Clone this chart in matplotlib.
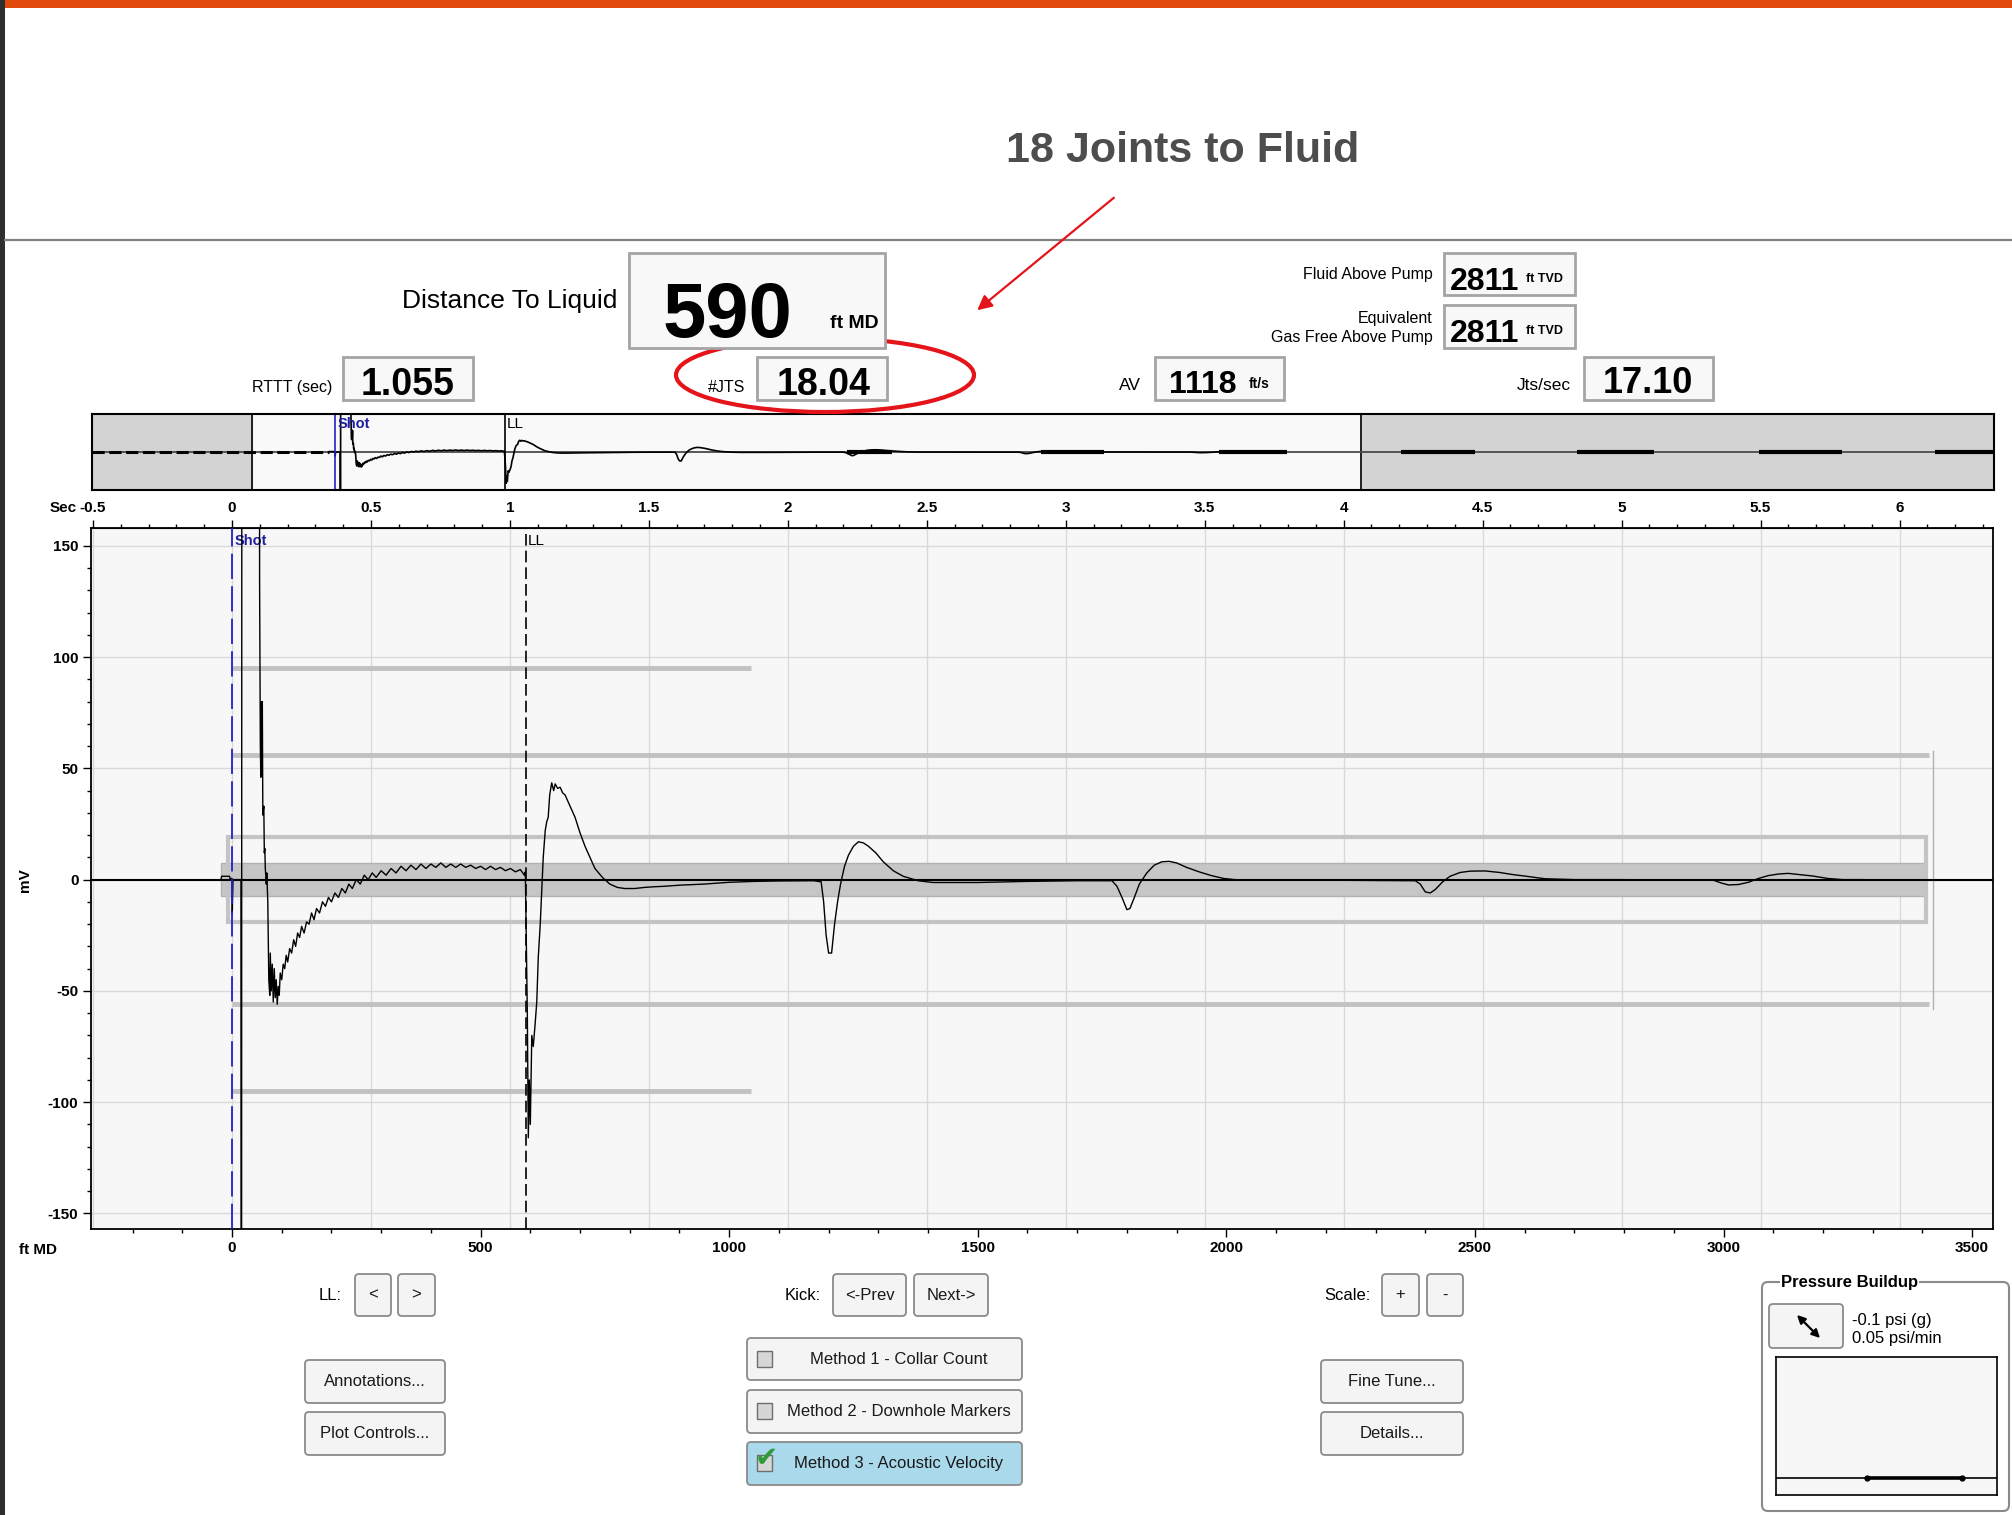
import numpy as np
import matplotlib
matplotlib.use("Agg")
import matplotlib.pyplot as plt
from matplotlib.patches import Rectangle, FancyBboxPatch, Ellipse
from matplotlib.ticker import MultipleLocator, FuncFormatter

W, H = 2012, 1515
FONT = ["Liberation Sans", "DejaVu Sans"]
plt.rcParams["font.family"] = FONT
plt.rcParams["axes.unicode_minus"] = False

# readings shown in the header
dist_to_liquid = 590
rttt_sec = 1.055
joints = 18.04
acoustic_vel = 1118
jts_per_sec = 17.10
fluid_above_pump = 2811
gas_free_above_pump = 2811
pressure_psi = -0.1
pressure_rate = 0.05

ft_per_sec = acoustic_vel / 2   # round trip time -> depth

shot_ft = 0
ll_ft = 592

# acoustic trace (ft MD, mV)
sig_ft = [-22, -21, -5, -4, 0, 0.5, 2, 18, 19, 20, 55, 55.5, 57, 58, 59, 60, 61, 62, 64, 65, 66, 67, 69, 70, 72,
          74, 76, 77, 79, 81, 83, 85, 87, 89, 91, 93, 95, 97, 100, 103, 106, 109, 112, 116, 120, 124, 128, 132,
          136, 140, 145, 150, 155, 160, 165, 170, 176, 182, 188, 194, 200, 207, 214, 221, 228, 235, 242, 250,
          258, 266, 274, 282, 290, 300, 310, 320, 330, 340, 350, 360, 370, 380, 390, 400, 410, 420, 430, 440,
          450, 460, 470, 480, 490, 500, 510, 520, 530, 540, 550, 560, 570, 580, 588, 590, 592, 594, 596, 598,
          600, 603, 606, 610, 613, 616, 620, 623, 626, 630, 633, 636, 639, 643, 647, 650, 655, 660, 665, 670,
          680, 690, 700, 710, 720, 730, 745, 760, 775, 790, 810, 830, 850, 870, 900, 950, 1000, 1050, 1100,
          1170, 1185, 1190, 1195, 1200, 1206, 1212, 1218, 1224, 1232, 1240, 1250, 1260, 1270, 1280, 1295, 1310,
          1330, 1350, 1380, 1410, 1500, 1600, 1700, 1770, 1780, 1790, 1800, 1806, 1815, 1825, 1840, 1855, 1870,
          1885, 1900, 1920, 1945, 1970, 1995, 2030, 2150, 2230, 2380, 2390, 2400, 2410, 2420, 2435, 2450, 2470,
          2490, 2520, 2550, 2575, 2600, 2640, 2700, 2790, 2980, 2995, 3010, 3030, 3050, 3070, 3090, 3110, 3130,
          3150, 3180, 3210, 3240, 3280]
sig_mv = [0, 1.5, 1.5, 0.5, 0.5, -15, 0, 0, -400, 400, 400, 134, 60, 46, 80, 55, 80, 29, 33, 12, 14, 5, -2, 3, -10,
          -45, -52, -33, -50, -38, -55, -40, -53, -45, -56, -48, -52, -42, -45, -38, -40, -34, -37, -31, -33, -27,
          -30, -24, -26, -21, -24, -19, -20, -15, -18, -13, -15, -10, -12, -8, -10, -6, -8, -4, -6, -2, -4, 0,
          -2, 2, 0, 3, 1, 4, 2, 5, 3, 6, 4, 6.5, 4.5, 7, 5, 7, 5.5, 7.5, 5.5, 7, 5.5, 7, 5.5, 6.5, 5, 6, 4.5, 6,
          4.5, 5.5, 4, 5, 3.5, 4.5, 2, 3.5, -30, -60, -116, -90, -110, -70, -75, -64, -55, -35, -20, -5, 10, 22,
          26, 28, 38, 43.5, 40, 43, 41, 41.5, 39, 38, 33, 28, 21, 15, 10, 5, 1, -2, -3.5, -4, -4, -3.5, -3.2, -3,
          -2.5, -2, -1.2, -0.8, -0.6, -0.5, -1, -10, -25, -33, -33, -20, -10, -2, 6, 11, 15, 17, 16.5, 15, 12, 8,
          4, 1.5, -0.5, -1.3, -1.3, -0.8, -0.5, -0.5, -3, -8, -13.5, -13, -8, -2, 3, 6.5, 8, 8.2, 7.5, 5.5, 3.5,
          1.8, 0.5, -0.3, -0.3, -0.3, -0.5, -2, -5.5, -6, -4.5, -1, 1.5, 3.2, 3.8, 3.9, 3.2, 2.3, 1.6, 0.4, 0, 0,
          -0.3, -1.5, -2.4, -2.2, -1.2, 0.5, 1.8, 2.5, 2.8, 2.3, 1.6, 0.5, 0, 0]

# gray gating bands on the trace
noise_band_mv = 7.3
noise_band_ft = [-22, 3405]
box_mv = 19
box_ft = [-8, 3408]
gate_mid_mv = 56
gate_mid_ft = [0, 3413]
gate_hi_mv = 95
gate_hi_ft = [0, 1044]

# overview strip (seconds)
strip_range = [-1.514, 10.336]
strip_window = [-0.517, 6.393]
strip_bursts = [(3.19, 3.47), (4.40, 4.79), (5.51, 5.93), (6.64, 7.10), (7.74, 8.22), (8.87, 9.39), (9.97, 10.34)]

sec_ticks = np.arange(-0.5, 6.01, 0.5)
ft_ticks = np.arange(0, 3501, 500)
mv_ticks = np.arange(-150, 151, 50)

pb_marks = [0.41, 0.84]

BLUE = "#2323C2"
RED = "#E5141B"


def px(x0, y0, x1, y1):
    return [x0 / W, 1 - y1 / H, (x1 - x0) / W, (y1 - y0) / H]


fig = plt.figure(figsize=(W / 100, H / 100), dpi=100)
fig.patch.set_facecolor("white")

# ---------------- main trace
ax = fig.add_axes(px(91, 528, 1993, 1229))
ax.set_facecolor("#F7F7F7")
ax.set_xlim(-283.6, 3542)
ax.set_ylim(-157, 158)
for s in sec_ticks:
    ax.axvline(s * ft_per_sec, color="#D9D9D9", lw=1, zorder=0.5)
for m in mv_ticks:
    ax.axhline(m, color="#D9D9D9", lw=1, zorder=0.5)

ax.add_patch(Rectangle((noise_band_ft[0], -noise_band_mv), noise_band_ft[1] - noise_band_ft[0], 2 * noise_band_mv,
                       fc="#C6C6C6", ec="#B2B2B2", lw=1, zorder=1))
ax.add_patch(Rectangle((box_ft[0], -box_mv), box_ft[1] - box_ft[0], 2 * box_mv,
                       fill=False, ec="#C4C4C4", lw=3, zorder=1))
for lvl in (gate_mid_mv, -gate_mid_mv):
    ax.plot(gate_mid_ft, [lvl, lvl], color="#C2C2C2", lw=3.5, solid_capstyle="butt", zorder=1)
ax.plot([gate_mid_ft[1] + 8] * 2, [-gate_mid_mv - 2, gate_mid_mv + 2], color="#B0B0B0", lw=1, zorder=1)
for lvl in (gate_hi_mv, -gate_hi_mv):
    ax.plot(gate_hi_ft, [lvl, lvl], color="#C2C2C2", lw=3.5, solid_capstyle="butt", zorder=1)

ax.axhline(0, color="black", lw=1.5, zorder=3)
ax.plot(sig_ft, sig_mv, color="black", lw=1.0, zorder=4)
ax.axvline(shot_ft, color=BLUE, lw=1.3, ls=(0, (14, 4)), zorder=5)
ax.axvline(ll_ft, color="black", lw=1.2, ls=(0, (7, 3)), zorder=5)
ax.annotate("Shot", xy=(shot_ft, 1), xycoords=ax.get_xaxis_transform(), xytext=(2, -4),
            textcoords="offset points", va="top", ha="left", color="#1E1E9E", fontsize=10.5, weight="bold")
ax.annotate("LL", xy=(ll_ft, 1), xycoords=ax.get_xaxis_transform(), xytext=(1, -4),
            textcoords="offset points", va="top", ha="left", color="black", fontsize=11)

ax.set_xticks(ft_ticks)
ax.xaxis.set_minor_locator(MultipleLocator(100))
ax.set_yticks(mv_ticks)
ax.yaxis.set_minor_locator(MultipleLocator(10))
ax.tick_params(which="major", direction="out", length=6, width=1, labelsize=11, pad=3)
ax.tick_params(which="minor", direction="out", length=3, width=1)
for lbl in ax.get_xticklabels() + ax.get_yticklabels():
    lbl.set_fontweight("bold")
for sp in ax.spines.values():
    sp.set_linewidth(1.3)

secax = ax.secondary_xaxis("top", functions=(lambda f: f / ft_per_sec, lambda s: s * ft_per_sec))
secax.set_xticks(sec_ticks)
secax.xaxis.set_minor_locator(MultipleLocator(0.1))
secax.xaxis.set_major_formatter(FuncFormatter(lambda v, p: "%g" % v))
secax.tick_params(which="major", direction="out", length=6, width=1, labelsize=11, pad=3)
secax.tick_params(which="minor", direction="out", length=3, width=1)
for lbl in secax.get_xticklabels():
    lbl.set_fontweight("bold")

# ---------------- overview strip
axs = fig.add_axes(px(92, 414, 1994, 490))
axs.set_facecolor("#F9F9F9")
axs.set_xlim(strip_range)
axs.set_ylim(-141, 141)
axs.axvspan(strip_range[0], strip_window[0], color="#D3D3D3", zorder=0)
axs.axvspan(strip_window[1], strip_range[1], color="#D3D3D3", zorder=0)
for w in strip_window:
    axs.axvline(w, color="black", lw=1.2)
axs.axhline(0, color="#4A4A4A", lw=1.3)
sig_t = np.array(sig_ft) / ft_per_sec
axs.plot([strip_range[0], sig_t[0]], [0, 0], color="black", lw=2.2, ls=(0, (4, 1.5)))
axs.plot(sig_t, sig_mv, color="black", lw=1.2)
for a, b in strip_bursts:
    axs.plot([a, b], [0, 0], color="black", lw=3, solid_capstyle="butt")
axs.axvline(shot_ft / ft_per_sec, color=BLUE, lw=1.2)
axs.axvline(ll_ft / ft_per_sec, color="black", lw=1.2)
axs.annotate("Shot", xy=(shot_ft / ft_per_sec, 1), xycoords=axs.get_xaxis_transform(), xytext=(2, -2),
             textcoords="offset points", va="top", color="#1E1E9E", fontsize=10.5, weight="bold")
axs.annotate("LL", xy=(ll_ft / ft_per_sec, 1), xycoords=axs.get_xaxis_transform(), xytext=(1, -2),
             textcoords="offset points", va="top", color="black", fontsize=11)
axs.set_xticks([])
axs.set_yticks([])
for sp in axs.spines.values():
    sp.set_linewidth(1.5)

# ---------------- pressure buildup mini plot
axp = fig.add_axes(px(1776, 1357, 1997, 1495))
axp.set_facecolor("#F7F7F7")
axp.set_xlim(0, 1)
axp.set_ylim(-0.12, 0.043)
axp.axhline(pressure_psi, color="black", lw=1.2)
axp.plot(pb_marks, [pressure_psi] * len(pb_marks), color="black", lw=2.6, marker="o", ms=3.5)
axp.set_xticks([])
axp.set_yticks([])
for sp in axp.spines.values():
    sp.set_linewidth(1.2)

# ---------------- overlay in pixel units
ov = fig.add_axes([0, 0, 1, 1], zorder=10)
ov.set_xlim(0, W)
ov.set_ylim(H, 0)
ov.axis("off")
ov.patch.set_alpha(0)

ov.add_patch(Rectangle((0, 0), W, 8, fc="#E1480B", ec="none"))
ov.add_patch(Rectangle((0, 0), 5, H, fc="#2E2E2E", ec="none"))
ov.plot([5, W], [240, 240], color="#808080", lw=1.6)

ov.text(1183, 162, "18 Joints to Fluid", ha="center", va="baseline", fontsize=31, weight="bold", color="#4D4D4D")
ov.add_patch(Ellipse((825, 375), 298, 74, fill=False, ec=RED, lw=3))
ov.annotate("", xy=(975, 312), xytext=(1116, 196),
            arrowprops=dict(arrowstyle="-|>", color=RED, lw=1.6, mutation_scale=22))


def valbox(x0, y0, x1, y1):
    ov.add_patch(Rectangle((x0, y0), x1 - x0, y1 - y0, fc="#F8F8F8", ec="#A4A4A4", lw=2))


valbox(629, 253, 885, 348)
valbox(343, 357, 473, 400)
valbox(757, 357, 887, 400)
valbox(1155, 357, 1284, 400)
valbox(1584, 357, 1713, 400)
valbox(1444, 253, 1575, 295)
valbox(1444, 305, 1575, 348)

ov.text(617, 308, "Distance To Liquid", ha="right", va="baseline", fontsize=19)
ov.text(663, 337, "%d" % dist_to_liquid, ha="left", va="baseline", fontsize=56, weight="bold")
ov.text(830, 328, "ft MD", ha="left", va="baseline", fontsize=14, weight="bold")
ov.text(332, 392, "RTTT (sec)", ha="right", va="baseline", fontsize=11.5)
ov.text(408, 395, "%.3f" % rttt_sec, ha="center", va="baseline", fontsize=27, weight="bold")
ov.text(745, 392, "#JTS", ha="right", va="baseline", fontsize=11.5)
ov.text(824, 395, "%.2f" % joints, ha="center", va="baseline", fontsize=27, weight="bold")
ov.text(1141, 390, "AV", ha="right", va="baseline", fontsize=12.5)
ov.text(1169, 393, "%d" % acoustic_vel, ha="left", va="baseline", fontsize=23, weight="bold")
ov.text(1249, 388, "ft/s", ha="left", va="baseline", fontsize=10, weight="bold")
ov.text(1571, 390, "Jts/sec", ha="right", va="baseline", fontsize=12.5)
ov.text(1648, 393, "%.2f" % jts_per_sec, ha="center", va="baseline", fontsize=26, weight="bold")
ov.text(1433, 279, "Fluid Above Pump", ha="right", va="baseline", fontsize=11.5)
ov.text(1450, 290, "%d" % fluid_above_pump, ha="left", va="baseline", fontsize=23, weight="bold")
ov.text(1526, 282, "ft TVD", ha="left", va="baseline", fontsize=9, weight="bold")
ov.text(1433, 323, "Equivalent", ha="right", va="baseline", fontsize=11.5)
ov.text(1433, 342, "Gas Free Above Pump", ha="right", va="baseline", fontsize=11.5)
ov.text(1450, 342, "%d" % gas_free_above_pump, ha="left", va="baseline", fontsize=23, weight="bold")
ov.text(1526, 334, "ft TVD", ha="left", va="baseline", fontsize=9, weight="bold")

# axis captions
ov.text(77, 508, "Sec", ha="right", va="center", fontsize=11, weight="bold")
ov.text(19, 1250, "ft MD", ha="left", va="center", fontsize=11, weight="bold")
ov.text(25, 880, "mV", ha="center", va="center", fontsize=11, weight="bold", rotation=90)


def button(x0, y0, x1, y1, label, fc="#F4F4F4", dx=0, size=12):
    ov.add_patch(FancyBboxPatch((x0, y0), x1 - x0, y1 - y0, boxstyle="round,pad=0,rounding_size=4",
                                fc=fc, ec="#8A8A8A", lw=1.3))
    ov.text((x0 + x1) / 2 + dx, (y0 + y1) / 2, label, ha="center", va="center", fontsize=size, color="#1A1A1A")


ov.text(342, 1295, "LL:", ha="right", va="center", fontsize=12)
button(355, 1274, 391, 1316, "<")
button(398, 1274, 435, 1316, ">")
button(305, 1360, 445, 1403, "Annotations...")
button(305, 1412, 445, 1455, "Plot Controls...")

ov.text(821, 1295, "Kick:", ha="right", va="center", fontsize=12)
button(833, 1274, 906, 1316, "<-Prev")
button(914, 1274, 988, 1316, "Next->")
button(747, 1338, 1022, 1380, "Method 1 - Collar Count", dx=14)
button(747, 1390, 1022, 1433, "Method 2 - Downhole Markers", dx=14)
button(747, 1442, 1022, 1485, "Method 3 - Acoustic Velocity", fc="#A9D9EA", dx=14)
for cy in (1359, 1411, 1463):
    ov.add_patch(Rectangle((757, cy - 8), 15, 16, fc="#D6D6D6", ec="#6E6E6E", lw=1))
ov.text(766, 1458, "\u2714", ha="center", va="center", fontsize=20, color="#2E9B3A", family=["DejaVu Sans"])

ov.text(1371, 1295, "Scale:", ha="right", va="center", fontsize=12)
button(1382, 1274, 1419, 1316, "+")
button(1427, 1274, 1463, 1316, "-")
button(1321, 1360, 1463, 1403, "Fine Tune...")
button(1321, 1412, 1463, 1455, "Details...")

ov.add_patch(FancyBboxPatch((1762, 1282), 247, 229, boxstyle="round,pad=0,rounding_size=6",
                            fill=False, ec="#8A8A8A", lw=1.5))
ov.text(1781, 1283, "Pressure Buildup", ha="left", va="center", fontsize=12, weight="bold",
        bbox=dict(fc="white", ec="none", pad=1))
button(1769, 1304, 1843, 1348, "")
ov.annotate("", xy=(1822, 1340), xytext=(1795, 1313),
            arrowprops=dict(arrowstyle="<|-|>", color="black", lw=1.6, mutation_scale=12))
ov.text(1852, 1321, "%g psi (g)" % pressure_psi, ha="left", va="center", fontsize=12)
ov.text(1852, 1338, "%g psi/min" % pressure_rate, ha="left", va="center", fontsize=12)

fig.savefig("out.png", dpi=100)
